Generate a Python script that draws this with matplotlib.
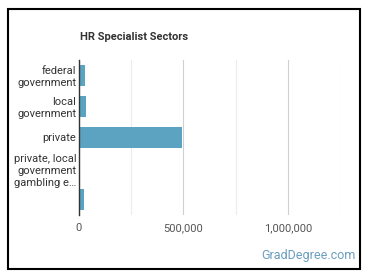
import matplotlib
matplotlib.use("Agg")
import matplotlib.pyplot as plt
from matplotlib.patches import Rectangle
from matplotlib.ticker import FuncFormatter, MultipleLocator

plt.rcParams['font.family'] = ['Roboto', 'DejaVu Sans']

categories = ["federal\ngovernment", "local\ngovernment", "private",
              "private, local\ngovernment\ngambling e\u2026", ""]
values = [29000, 34000, 495000, 5000, 24000]
xticks = [0, 500000, 1000000]

fig = plt.figure(figsize=(3.7, 2.78), dpi=100)
ax = fig.add_axes([0.2135, 0.2266, 0.7055, 0.5576])

pos = list(range(len(categories)))
ax.barh(pos, values, height=0.65, color="#5ba3c1", zorder=3)
ax.set_yticks(pos)
ax.set_yticklabels(categories, fontsize=8, color="#333333", linespacing=1.25)
ax.set_ylim(len(categories) - 0.5, -0.5)
ax.set_xlim(0, 1250000)

ax.set_xticks(xticks)
ax.xaxis.set_minor_locator(MultipleLocator(250000))
ax.xaxis.set_major_formatter(FuncFormatter(lambda v, p: "{:,.0f}".format(v)))
ax.tick_params(axis="x", labelsize=8, colors="#555555", length=0, pad=6)
ax.tick_params(axis="y", length=0, pad=2)
ax.tick_params(which="minor", length=0)
ax.grid(axis="x", which="major", color="#d0d0d0", linewidth=0.8, zorder=0)
ax.grid(axis="x", which="minor", color="#ececec", linewidth=0.8, zorder=0)

for s in ["top", "right", "bottom"]:
    ax.spines[s].set_visible(False)
ax.spines["left"].set_color("#333333")
ax.spines["left"].set_linewidth(1.0)
ax.spines["left"].set_zorder(4)

fig.text(0.216, 0.867, "HR Specialist Sectors", fontsize=8, fontweight="bold",
         color="#333333", va="center", ha="left")
fig.text(0.96, 0.08, "GradDegree.com", fontsize=9, color="#6a9fbf",
         ha="right", va="center")

fig.patches.append(Rectangle((8 / 370, 9 / 278), 352 / 370, 260 / 278,
                             transform=fig.transFigure, fill=False,
                             edgecolor="black", linewidth=1.5))

fig.savefig("out.png", dpi=100)
